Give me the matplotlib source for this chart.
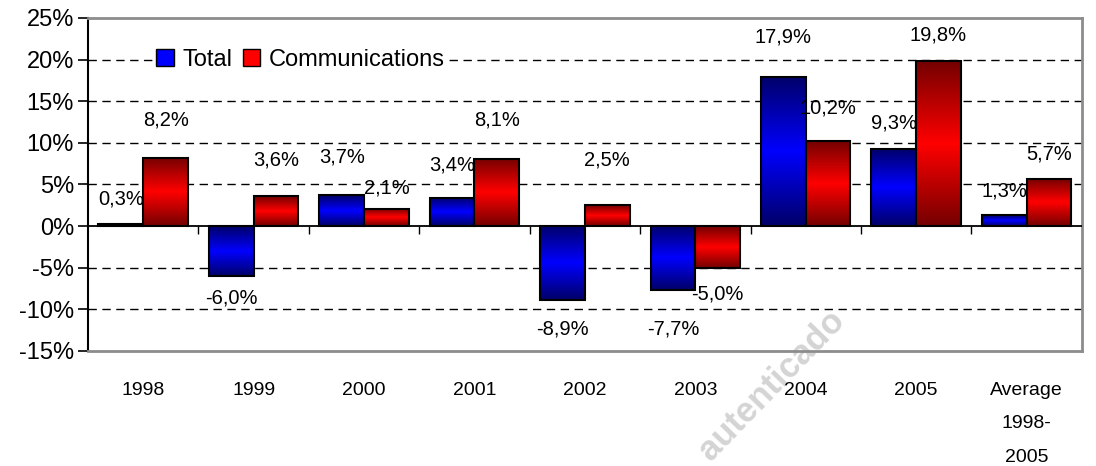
import numpy as np
import matplotlib
matplotlib.use('Agg')
from matplotlib import pyplot as plt
from matplotlib.colors import LinearSegmentedColormap
from matplotlib.patches import Patch

'''
Data
'''
categories = ['1998', '1999', '2000', '2001', '2002', '2003', '2004', '2005',
              'Average\n1998-\n2005']
total = [0.3, -6.0, 3.7, 3.4, -8.9, -7.7, 17.9, 9.3, 1.3]
communications = [8.2, 3.6, 2.1, 8.1, 2.5, -5.0, 10.2, 19.8, 5.7]

# where the value labels sit, relative to the bar end (in % units)
total_lab_off = [2.9, -2.6, 4.6, 4.0, -3.5, -4.7, 4.8, 3.1, 2.9]
comm_lab_off = [4.6, 4.4, 2.5, 4.7, 5.5, -3.2, 4.0, 3.1, 3.0]

plt.rcParams['font.family'] = ['Liberation Sans', 'DejaVu Sans']

fig = plt.figure(figsize=(10.96, 4.66), dpi=100)
ax = fig.add_axes([0.0803, 0.2468, 0.9067, 0.7146])
ax.patch.set_alpha(0)

blue_cm = LinearSegmentedColormap.from_list('blu', ['#000068', '#0000ff', '#000068'])
red_cm = LinearSegmentedColormap.from_list('rd', ['#740000', '#ff0000', '#740000'])
grad = np.linspace(0, 1, 256).reshape(-1, 1)

x = np.arange(len(categories))
w = 0.405


def grad_bars(xpos, vals, cmap):
    bars = ax.bar(xpos, vals, w, facecolor='none', edgecolor='black',
                  linewidth=1.5, zorder=3)
    for b in bars:
        x0, y0 = b.get_x(), b.get_y()
        x1, y1 = x0 + b.get_width(), y0 + b.get_height()
        im = ax.imshow(grad, cmap=cmap, aspect='auto', origin='upper',
                       extent=[x0, x1, min(y0, y1), max(y0, y1)], zorder=2)
        im.set_clip_path(b)
    return bars


grad_bars(x - w / 2, total, blue_cm)
grad_bars(x + w / 2, communications, red_cm)

# grid
for v in [20, 15, 10, 5, -5, -10]:
    ax.axhline(v, color='black', lw=1, ls=(0, (6, 4)), zorder=1)
ax.axhline(0, color='black', lw=1.3, zorder=4)
ax.vlines(x[:-1] + 0.5, -1.0, 0, color='black', lw=1, zorder=4)

# value labels
def fmt(v):
    return ('%.1f%%' % v).replace('.', ',')

for i in range(len(x)):
    ax.text(x[i] - w / 2, total[i] + total_lab_off[i], fmt(total[i]),
            ha='center', va='center', fontsize=14.5, zorder=5)
    ax.text(x[i] + w / 2, communications[i] + comm_lab_off[i], fmt(communications[i]),
            ha='center', va='center', fontsize=14.5, zorder=5)

ax.set_xlim(-0.5, 8.5)
ax.set_ylim(-15, 25)
yt = list(range(-15, 30, 5))
ax.set_yticks(yt, ['%d%%' % v for v in yt])
ax.tick_params(axis='y', length=7, width=1.2, labelsize=17, pad=3)
ax.set_xticks(x, categories)
ax.tick_params(axis='x', length=0, pad=22, labelsize=14)
ax.get_xticklabels()[-1].set_linespacing(2.3)

ax.spines['left'].set_color('black')
ax.spines['left'].set_linewidth(1.5)
for s in ['top', 'right', 'bottom']:
    ax.spines[s].set_color('#8c8c8c')
    ax.spines[s].set_linewidth(2)

handles = [Patch(facecolor='#0000ff', edgecolor='black'),
           Patch(facecolor='#ff0000', edgecolor='black')]
leg = ax.legend(handles, ['Total', 'Communications'], loc='center left',
                bbox_to_anchor=(0.065, 0.874), ncol=2, fontsize=17,
                handlelength=0.75, handleheight=0.75, handletextpad=0.35,
                columnspacing=0.45, borderpad=0.15, borderaxespad=0,
                fancybox=False, facecolor='white', edgecolor='none',
                framealpha=1)
leg.set_zorder(6)

# watermark
fig.text(772 / 1096, 1 - 385 / 466, 'autenticado', rotation=46, color='#d4d4d4',
         fontsize=25, fontweight='bold', ha='center', va='center', zorder=-1)

fig.savefig('out.png', dpi=100)
